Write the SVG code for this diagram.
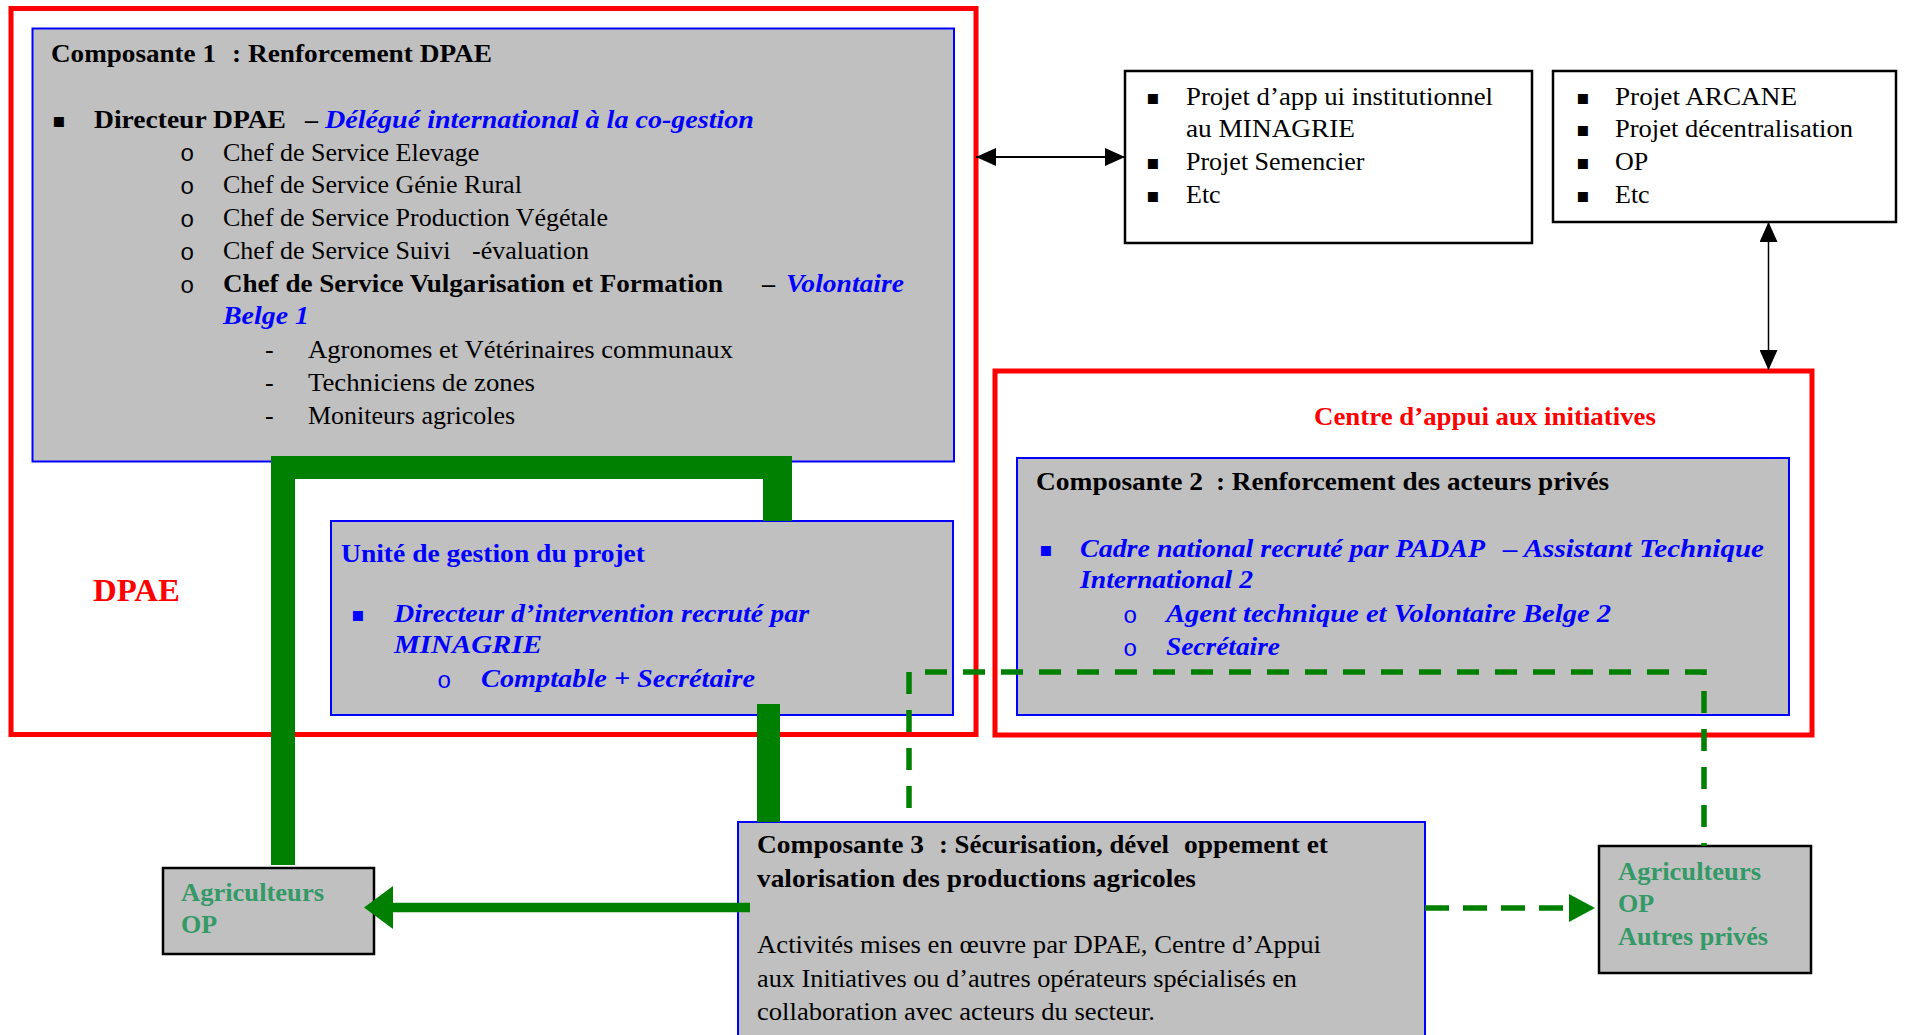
<svg xmlns="http://www.w3.org/2000/svg" width="1906" height="1035" viewBox="0 0 1906 1035">
<style>
text{font-family:"Liberation Serif","Times New Roman",serif;font-size:26px;fill:#000}
.b{font-weight:bold}
.bi{font-weight:bold;font-style:italic;fill:#0000ff}
.bb{font-weight:bold;fill:#0000ff}
.g{font-weight:bold;fill:#339966}
.red{font-weight:bold;fill:#ff0000}
.sq{font-family:"DejaVu Sans",sans-serif;font-size:20px}
.o{font-family:"Liberation Mono","Courier New",monospace;font-size:24px}
.frame{fill:none;stroke:#ff0000;stroke-width:5}
.gbox{fill:#c0c0c0;stroke:#0000ff;stroke-width:2}
.kbox{fill:#c0c0c0;stroke:#000;stroke-width:2.5}
.wbox{fill:#fff;stroke:#000;stroke-width:2.5}
.gdash{fill:none;stroke:#008000;stroke-width:5.5;stroke-dasharray:22 16}
</style>
<defs>
<marker id="ahk" viewBox="0 0 20 18" refX="20" refY="9" markerWidth="20" markerHeight="18" markerUnits="userSpaceOnUse" orient="auto-start-reverse"><path d="M0,0 L20,9 L0,18 Z" fill="#000"/></marker>
<marker id="ahg" viewBox="0 0 29 43" refX="0" refY="21.5" markerWidth="29" markerHeight="43" markerUnits="userSpaceOnUse" orient="auto"><path d="M0,0 L29,21.5 L0,43 Z" fill="#008000"/></marker>
<marker id="ahgd" viewBox="0 0 26 28" refX="0" refY="14" markerWidth="26" markerHeight="28" markerUnits="userSpaceOnUse" orient="auto"><path d="M0,0 L26,14 L0,28 Z" fill="#008000"/></marker>
</defs>
<rect width="1906" height="1035" fill="#fff"/>

<g id="dpae">
<rect class="frame" x="11" y="8.5" width="965" height="726"/>
<text class="red" x="93" y="601" style="font-size:31px" textLength="87" lengthAdjust="spacingAndGlyphs">DPAE</text>
</g>

<g id="centre-appui">
<rect class="frame" x="995" y="371" width="817" height="364"/>
<text class="red" x="1314" y="425" textLength="342" lengthAdjust="spacingAndGlyphs">Centre d’appui aux initiatives</text>
</g>

<g id="composante1">
<rect class="gbox" x="32.5" y="28.5" width="921.5" height="433"/>
<text class="b" x="51" y="62" textLength="165" lengthAdjust="spacingAndGlyphs">Composante 1</text>
<text class="b" x="232" y="62" textLength="260" lengthAdjust="spacingAndGlyphs">: Renforcement DPAE</text>
<text class="sq" x="52" y="127">▪</text>
<text class="b" x="94" y="128" textLength="192" lengthAdjust="spacingAndGlyphs">Directeur DPAE</text>
<text class="b" x="305" y="128">–</text>
<text class="bi" x="325" y="128" textLength="429" lengthAdjust="spacingAndGlyphs">Délégué international à la co-gestion</text>
<text class="o" x="180" y="161">o</text>
<text x="223" y="161">Chef de Service Elevage</text>
<text class="o" x="180" y="194">o</text>
<text x="223" y="193">Chef de Service Génie Rural</text>
<text class="o" x="180" y="227">o</text>
<text x="223" y="226">Chef de Service Production Végétale</text>
<text class="o" x="180" y="260">o</text>
<text x="223" y="259">Chef de Service Suivi<tspan x="472">-évaluation</tspan></text>
<text class="o" x="180" y="293">o</text>
<text class="b" x="223" y="292" textLength="500" lengthAdjust="spacingAndGlyphs">Chef de Service Vulgarisation et Formation</text>
<text class="b" x="762" y="292">–</text>
<text class="bi" x="786" y="292" textLength="118" lengthAdjust="spacingAndGlyphs">Volontaire</text>
<text class="bi" x="223" y="324" textLength="86" lengthAdjust="spacingAndGlyphs">Belge 1</text>
<text x="265" y="358">-</text>
<text x="308" y="358" textLength="425" lengthAdjust="spacingAndGlyphs">Agronomes et Vétérinaires communaux</text>
<text x="265" y="391">-</text>
<text x="308" y="391" textLength="227" lengthAdjust="spacingAndGlyphs">Techniciens de zones</text>
<text x="265" y="424">-</text>
<text x="308" y="424">Moniteurs agricoles</text>
</g>

<g id="unite-gestion">
<rect class="gbox" x="331" y="521" width="622" height="194"/>
<text class="bb" x="341" y="562" textLength="304" lengthAdjust="spacingAndGlyphs">Unité de gestion du projet</text>
<text class="sq" x="351" y="621" style="fill:#0000ff">▪</text>
<text class="bi" x="394" y="622" textLength="415" lengthAdjust="spacingAndGlyphs">Directeur d’intervention recruté par</text>
<text class="bi" x="394" y="653" textLength="148" lengthAdjust="spacingAndGlyphs">MINAGRIE</text>
<text class="o" x="437" y="688" style="fill:#0000ff">o</text>
<text class="bi" x="481" y="687" textLength="274" lengthAdjust="spacingAndGlyphs">Comptable + Secrétaire</text>
</g>

<g id="projets-institutionnels">
<rect class="wbox" x="1125" y="71" width="407" height="172"/>
<text class="sq" x="1146" y="104">▪</text>
<text x="1186" y="105" textLength="307" lengthAdjust="spacingAndGlyphs">Projet d’app ui institutionnel</text>
<text x="1186" y="137" textLength="169" lengthAdjust="spacingAndGlyphs">au MINAGRIE</text>
<text class="sq" x="1146" y="169">▪</text>
<text x="1186" y="170">Projet Semencier</text>
<text class="sq" x="1146" y="202">▪</text>
<text x="1186" y="203">Etc</text>
</g>

<g id="projets-partenaires">
<rect class="wbox" x="1553" y="71" width="343" height="151"/>
<text class="sq" x="1576" y="104">▪</text>
<text x="1615" y="105" textLength="182" lengthAdjust="spacingAndGlyphs">Projet ARCANE</text>
<text class="sq" x="1576" y="136">▪</text>
<text x="1615" y="137" textLength="238" lengthAdjust="spacingAndGlyphs">Projet décentralisation</text>
<text class="sq" x="1576" y="169">▪</text>
<text x="1615" y="170">OP</text>
<text class="sq" x="1576" y="202">▪</text>
<text x="1615" y="203">Etc</text>
</g>

<g id="composante2">
<rect class="gbox" x="1017" y="458" width="772" height="257"/>
<text class="b" x="1036" y="490" textLength="167" lengthAdjust="spacingAndGlyphs">Composante 2</text>
<text class="b" x="1216" y="490" textLength="393" lengthAdjust="spacingAndGlyphs">: Renforcement des acteurs privés</text>
<text class="sq" x="1039" y="556" style="fill:#0000ff">▪</text>
<text class="bi" x="1080" y="557" textLength="405" lengthAdjust="spacingAndGlyphs">Cadre national recruté par PADAP</text>
<text class="bi" x="1503" y="557" textLength="261" lengthAdjust="spacingAndGlyphs">– Assistant Technique</text>
<text class="bi" x="1080" y="588" textLength="173" lengthAdjust="spacingAndGlyphs">International 2</text>
<text class="o" x="1123" y="623" style="fill:#0000ff">o</text>
<text class="bi" x="1166" y="622" textLength="445" lengthAdjust="spacingAndGlyphs">Agent technique et Volontaire Belge 2</text>
<text class="o" x="1123" y="656" style="fill:#0000ff">o</text>
<text class="bi" x="1166" y="655" textLength="114" lengthAdjust="spacingAndGlyphs">Secrétaire</text>
</g>

<g id="composante3">
<rect class="gbox" x="738" y="822" width="687" height="230"/>
<text class="b" x="757" y="853" textLength="167" lengthAdjust="spacingAndGlyphs">Composante 3</text>
<text class="b" x="939" y="853" textLength="230" lengthAdjust="spacingAndGlyphs">: Sécurisation, dével</text>
<text class="b" x="1184" y="853" textLength="144" lengthAdjust="spacingAndGlyphs">oppement et</text>
<text class="b" x="757" y="887" textLength="439" lengthAdjust="spacingAndGlyphs">valorisation des productions agricoles</text>
<text x="757" y="953" textLength="564" lengthAdjust="spacingAndGlyphs">Activités mises en œuvre par DPAE, Centre d’Appui</text>
<text x="757" y="987" textLength="540" lengthAdjust="spacingAndGlyphs">aux Initiatives ou d’autres opérateurs spécialisés en</text>
<text x="757" y="1020" textLength="398" lengthAdjust="spacingAndGlyphs">collaboration avec acteurs du secteur.</text>
</g>

<g id="agriculteurs-op">
<rect class="kbox" x="163" y="868" width="211" height="86"/>
<text class="g" x="181" y="901" textLength="143" lengthAdjust="spacingAndGlyphs">Agriculteurs</text>
<text class="g" x="181" y="933">OP</text>
</g>

<g id="agriculteurs-prives">
<rect class="kbox" x="1599" y="846" width="212" height="127"/>
<text class="g" x="1618" y="880" textLength="143" lengthAdjust="spacingAndGlyphs">Agriculteurs</text>
<text class="g" x="1618" y="912">OP</text>
<text class="g" x="1618" y="945" textLength="150" lengthAdjust="spacingAndGlyphs">Autres privés</text>
</g>

<g id="connectors">
<path d="M271,456 H792 V521 H763 V479 H295 V865 H271 Z" fill="#008000"/>
<rect x="757" y="704" width="23" height="118" fill="#008000"/>
<line x1="750" y1="907.5" x2="393" y2="907.5" stroke="#008000" stroke-width="9.5" marker-end="url(#ahg)"/>
<path class="gdash" d="M909,808 V672 H1704 V846"/>
<line class="gdash" x1="1425" y1="908" x2="1569" y2="908" marker-end="url(#ahgd)" style="stroke-dasharray:24 14"/>
<line x1="976" y1="157" x2="1125" y2="157" stroke="#000" stroke-width="2.2" marker-start="url(#ahk)" marker-end="url(#ahk)"/>
<line x1="1768.5" y1="222" x2="1768.5" y2="370" stroke="#000" stroke-width="1.5" marker-start="url(#ahk)" marker-end="url(#ahk)"/>
</g>
</svg>
